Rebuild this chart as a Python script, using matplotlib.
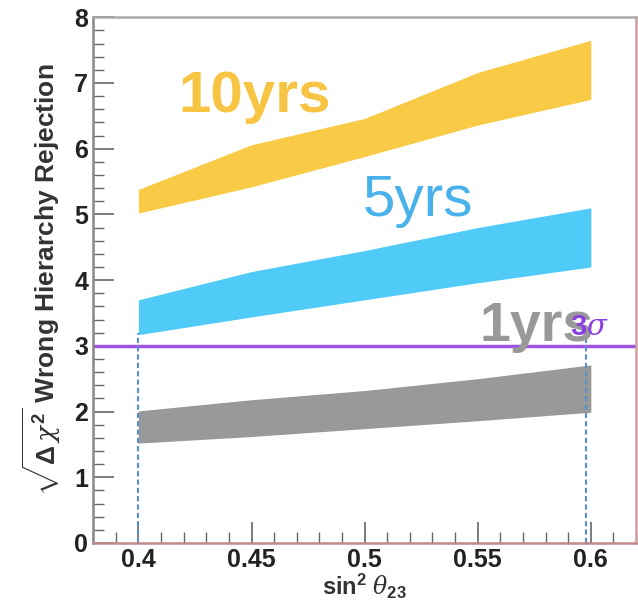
import numpy as np
import matplotlib
matplotlib.use('Agg')
import matplotlib.pyplot as plt
from matplotlib.ticker import MultipleLocator

plt.rcParams['font.family'] = ['Liberation Sans', 'DejaVu Sans']
plt.rcParams['mathtext.fontset'] = 'custom'
plt.rcParams['mathtext.rm'] = 'Liberation Sans:bold'
plt.rcParams['mathtext.bf'] = 'Liberation Sans:bold'
plt.rcParams['mathtext.it'] = 'DejaVu Serif:italic'

# sin^2 theta23 sample points
s23 = [0.40, 0.45, 0.50, 0.55, 0.60]

# band edges
y10_lo = [5.02, 5.42, 5.88, 6.36, 6.75]
y10_hi = [5.38, 6.06, 6.46, 7.16, 7.65]
y5_lo = [3.17, 3.44, 3.70, 3.96, 4.20]
y5_hi = [3.70, 4.13, 4.45, 4.80, 5.10]
y1_lo = [1.52, 1.62, 1.74, 1.86, 1.99]
y1_hi = [2.01, 2.18, 2.32, 2.50, 2.71]

sigma3 = 3.0
vlines_x = [0.40, 0.598]
vlines_top = 3.2

fig = plt.figure(figsize=(6.38, 6.05), dpi=100)
ax = fig.add_axes([0.146, 0.1025, 0.851, 0.869])

ax.fill_between(s23, y10_lo, y10_hi, color='#f9ca45', lw=0)
ax.fill_between(s23, y5_lo, y5_hi, color='#50caf6', lw=0)
ax.fill_between(s23, y1_lo, y1_hi, color='#999999', lw=0)

ax.axhline(sigma3, color='#9b55e0', lw=2.5)
for xv in vlines_x:
    ax.plot([xv, xv], [0, vlines_top], color='#5b8fd0', lw=1.5, ls=(0, (2.5, 1.5)))

ax.text(0.4175, 6.56, '10yrs', color='#f7c543', fontsize=42, fontweight='bold')
ax.text(0.499, 4.98, '5yrs', color='#4ab2ea', fontsize=42)
ax.text(0.551, 3.08, '1yrs', color='#999999', fontsize=40, fontweight='bold')
ax.text(0.591, 3.17, r'3$\sigma$', color='#8a3fe0', fontsize=21, fontweight='bold')

ax.set_xlim(0.38, 0.62)
ax.set_ylim(0, 8)
ax.xaxis.set_major_locator(MultipleLocator(0.05))
ax.xaxis.set_minor_locator(MultipleLocator(0.01))
ax.yaxis.set_major_locator(MultipleLocator(1))
ax.yaxis.set_minor_locator(MultipleLocator(0.2))
ax.set_xticks([0.4, 0.45, 0.5, 0.55, 0.6])
ax.set_xticklabels(['0.4', '0.45', '0.5', '0.55', '0.6'])

ax.tick_params(which='both', direction='in', colors='#666666', labelcolor='#222222',
               labelsize=18, top=False, right=False)
ax.tick_params(which='major', length=15, width=1.2)
ax.tick_params(which='minor', length=8, width=1.0)
for lab in ax.get_xticklabels() + ax.get_yticklabels():
    lab.set_fontweight('bold')

ax.spines['left'].set_color('#888888')
ax.spines['top'].set_color('#aaaaaa')
ax.spines['bottom'].set_color('#c08888')
ax.spines['right'].set_color('#d0a0a0')
for sp in ax.spines.values():
    sp.set_linewidth(1.8)

ax.set_xlabel(r'sin$^{\mathbf{2}}$ $\theta_{\mathbf{23}}$', fontsize=17, fontweight='bold',
              color='#333333', labelpad=0)
ax.set_ylabel(r'$\sqrt{\Delta\,\chi^{2}}$ Wrong Hierarchy Rejection', fontsize=19,
              fontweight='bold', color='#333333', labelpad=8)

fig.savefig('out.png', dpi=100)
